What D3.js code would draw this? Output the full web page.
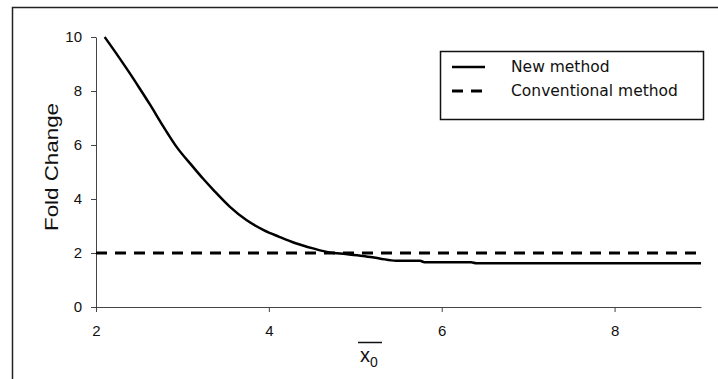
<!DOCTYPE html>
<html>
<head>
<meta charset="utf-8">
<script src="https://cdn.jsdelivr.net/npm/d3@7"></script>
<style>
  body { margin: 0; background: #fff; }
  svg { display: block; }
</style>
</head>
<body>
<svg id="chart" width="718" height="379"></svg>
<script>
// values
const newX = [2.10, 2.25, 2.39, 2.50, 2.62, 2.78, 2.93, 3.12, 3.24, 3.36, 3.55, 3.74, 3.94, 4.12, 4.31, 4.51, 4.70, 4.89, 5.09, 5.28, 5.47, 5.75, 5.80, 6.34, 6.40, 9.00];
const newY = [10.0, 9.32, 8.66, 8.12, 7.52, 6.68, 5.94, 5.20, 4.75, 4.33, 3.71, 3.22, 2.85, 2.60, 2.36, 2.17, 2.02, 1.96, 1.89, 1.80, 1.71, 1.71, 1.66, 1.66, 1.62, 1.62];
const convX = [2, 9];
const convY = [2, 2];
const xTicks = [2, 4, 6, 8];
const yTicks = [0, 2, 4, 6, 8, 10];
const seriesNames = ['New method', 'Conventional method'];

const svg = d3.select('#chart');
const margin = { top: 37, right: 17, bottom: 72, left: 96 };
const width = 718 - margin.left - margin.right;
const height = 379 - margin.top - margin.bottom;

const x = d3.scaleLinear().domain([2, 9]).range([0, width]);
const y = d3.scaleLinear().domain([0, 10]).range([height, 0]);

// outer frame (only top and left edges are visible)
svg.append('path')
  .attr('d', 'M12.5,379 V7.5 H718')
  .attr('fill', 'none')
  .attr('stroke', '#222')
  .attr('stroke-width', 1.5);

const g = svg.append('g')
  .attr('transform', `translate(${margin.left}, ${margin.top})`);

g.append('g')
  .attr('transform', `translate(0, ${height})`)
  .call(d3.axisBottom(x).tickValues(xTicks).tickFormat(d3.format('d'))
    .tickSize(5).tickSizeOuter(0).tickPadding(13));
g.append('g')
  .call(d3.axisLeft(y).tickValues(yTicks).tickFormat(d3.format('d'))
    .tickSize(5).tickSizeOuter(0).tickPadding(9));

g.selectAll('.domain, .tick line').attr('stroke', '#444');
g.selectAll('.tick text')
  .attr('font-family', 'Liberation Sans, Arial, sans-serif')
  .attr('font-size', 15)
  .attr('fill', '#111');

// series
const line = d3.line().x(d => x(d[0])).y(d => y(d[1]));

g.append('path')
  .datum(convX.map((v, i) => [v, convY[i]]))
  .attr('d', line)
  .attr('fill', 'none')
  .attr('stroke', '#000')
  .attr('stroke-width', 3)
  .attr('stroke-dasharray', '11,8');

g.append('path')
  .datum(newX.map((v, i) => [v, newY[i]]))
  .attr('d', line.curve(d3.curveMonotoneX))
  .attr('fill', 'none')
  .attr('stroke', '#000')
  .attr('stroke-width', 2.5);

// axis titles
svg.append('text')
  .attr('transform', 'translate(58, 167) rotate(-90)')
  .attr('text-anchor', 'middle')
  .attr('font-family', 'Liberation Sans, Arial, sans-serif')
  .attr('font-size', 19)
  .attr('textLength', 128)
  .attr('lengthAdjust', 'spacingAndGlyphs')
  .attr('fill', '#111')
  .text('Fold Change');

const xt = svg.append('text')
  .attr('x', 360)
  .attr('y', 362)
  .attr('font-family', 'Liberation Sans, Arial, sans-serif')
  .attr('font-size', 20)
  .attr('fill', '#111');
xt.append('tspan').text('x');
xt.append('tspan').attr('dy', 5).attr('font-size', 14).text('0');
svg.append('line')
  .attr('x1', 358).attr('x2', 382)
  .attr('y1', 342.5).attr('y2', 342.5)
  .attr('stroke', '#111')
  .attr('stroke-width', 1.5);

// legend
const legend = svg.append('g').attr('transform', 'translate(440, 51)');
legend.append('rect')
  .attr('x', 0.5).attr('y', 0.5)
  .attr('width', 263).attr('height', 68)
  .attr('fill', '#fff')
  .attr('stroke', '#111')
  .attr('stroke-width', 1.5);
const items = legend.selectAll('g.item')
  .data(seriesNames)
  .join('g')
  .attr('class', 'item')
  .attr('transform', (d, i) => `translate(0, ${16 + i * 24})`);
items.append('line')
  .attr('x1', 12).attr('x2', 45)
  .attr('stroke', '#000')
  .attr('stroke-width', (d, i) => i === 0 ? 2.5 : 3)
  .attr('stroke-dasharray', (d, i) => i === 0 ? null : '11,8');
items.append('text')
  .attr('x', 71)
  .attr('dy', '0.35em')
  .attr('font-family', 'DejaVu Sans, Verdana, sans-serif')
  .attr('font-size', 15.5)
  .attr('fill', '#111')
  .text(d => d);
</script>
</body>
</html>
